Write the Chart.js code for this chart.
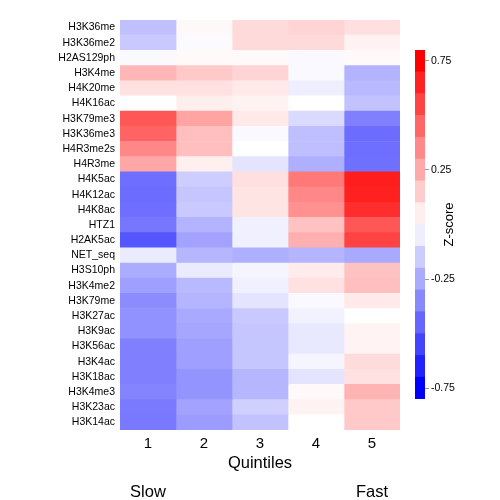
<!DOCTYPE html>
<html>
<head>
<meta charset="utf-8">
<script src="https://cdn.jsdelivr.net/npm/chart.js@4.4.0/dist/chart.umd.min.js"></script>
<style>
  html, body { margin: 0; padding: 0; background: #ffffff; }
  #wrap { position: relative; width: 500px; height: 500px; }
  #main { position: absolute; left: 0; top: 0; }
  #key { position: absolute; left: 400px; top: 40px; }
</style>
</head>
<body>
<div id="wrap">
  <canvas id="main" width="500" height="500"></canvas>
  <canvas id="key" width="100" height="370"></canvas>
</div>
<script>
// ---------- data ----------
const marks = ["H3K36me","H3K36me2","H2AS129ph","H3K4me","H4K20me","H4K16ac","H3K79me3","H3K36me3","H4R3me2s","H4R3me",
  "H4K5ac","H4K12ac","H4K8ac","HTZ1","H2AK5ac","NET_seq","H3S10ph","H3K4me2","H3K79me","H3K27ac",
  "H3K9ac","H3K56ac","H3K4ac","H3K18ac","H3K4me3","H3K23ac","H3K14ac"];
const quintiles = [1, 2, 3, 4, 5];
const quintileLabels = ["1", "2", "3", "4", "5"];
const speedPos = [1, 5];
const speedLabels = ["Slow", "Fast"];
const xTitle = "Quintiles";
const zTitleText = "Z-score";
const zTicks = [-0.75, -0.25, 0.25, 0.75];
const zBreaks = [-0.8,-0.7,-0.6,-0.5,-0.4,-0.3,-0.2,-0.1,0,0.1,0.2,0.3,0.4,0.5,0.6,0.7,0.8];

const q1 = [-0.198,-0.17,-0.02,0.23,0.094,0,0.53,0.49,0.376,0.28,
  -0.455,-0.46,-0.455,-0.43,-0.53,-0.063,-0.26,-0.30,-0.36,-0.345,
  -0.345,-0.40,-0.40,-0.40,-0.386,-0.417,-0.42];
const q2 = [0.022,-0.016,0.02,0.17,0.094,0.053,0.29,0.20,0.20,0.047,
  -0.157,-0.18,-0.17,-0.24,-0.29,-0.23,-0.063,-0.22,-0.235,-0.27,
  -0.28,-0.30,-0.30,-0.336,-0.336,-0.29,-0.31];
const q3 = [0.116,0.116,0.02,0.135,0.07,0.04,0.07,-0.02,0,-0.085,
  0.10,0.085,0.085,-0.047,-0.047,-0.25,-0.03,-0.047,-0.085,-0.17,
  -0.18,-0.18,-0.18,-0.23,-0.23,-0.147,-0.19];
const q4 = [0.135,0.116,-0.02,-0.02,-0.053,0,-0.116,-0.2,-0.2,-0.25,
  0.42,0.376,0.345,0.19,0.25,-0.235,0.063,0.094,-0.02,-0.04,
  -0.072,-0.072,-0.03,-0.085,0.02,0.04,0];
const q5 = [0.10,0.04,0.02,-0.24,-0.22,-0.19,-0.40,-0.46,-0.455,-0.45,
  0.71,0.70,0.66,0.53,0.59,-0.27,0.19,0.20,0.07,0,
  0.038,0.038,0.11,0.094,0.235,0.17,0.17];
const seriesValues = [q1, q2, q3, q4, q5];

// ---------- colours ----------
const zLimit = 0.8;
function zColor(v) {
  let t = Math.max(-1, Math.min(1, v / zLimit));
  if (t >= 0) { const c = Math.round(255 * (1 - t)); return `rgb(255,${c},${c})`; }
  const c = Math.round(255 * (1 + t)); return `rgb(${c},${c},255)`;
}
function paletteColor(k, n) { // colorRampPalette(blue, white, red)(n)
  const t = k / (n - 1);
  if (t >= 0.5) { const c = Math.round(255 * (1 - (t - 0.5) * 2)); return `rgb(255,${c},${c})`; }
  const c = Math.round(255 * (t * 2)); return `rgb(${c},${c},255)`;
}

Chart.defaults.font.family = '"Liberation Sans", Arial, Helvetica, sans-serif';
Chart.defaults.color = '#000';

// ---------- heatmap ----------
new Chart(document.getElementById('main'), {
  type: 'bar',
  data: {
    labels: marks,
    datasets: quintiles.map((q, i) => ({
      label: quintileLabels[i],
      data: marks.map(() => [q - 0.5, q + 0.5]),
      backgroundColor: seriesValues[i].map(zColor),
      borderWidth: 0,
      grouped: false,
      barPercentage: 1,
      categoryPercentage: 1
    }))
  },
  options: {
    indexAxis: 'y',
    responsive: false,
    animation: false,
    layout: { padding: { top: 20, right: 100, left: 0, bottom: 0 } },
    plugins: { legend: { display: false }, tooltip: { enabled: false } },
    scales: {
      x: {
        type: 'linear', position: 'bottom', weight: 0,
        min: 0.5, max: 5.5,
        grid: { display: false, drawTicks: false },
        border: { display: false },
        afterBuildTicks: s => { s.ticks = quintiles.map(v => ({ value: v })); },
        ticks: {
          callback: v => quintileLabels[quintiles.indexOf(v)],
          font: { size: 15 }, color: '#000', padding: 5, maxRotation: 0, autoSkip: false
        },
        title: { display: true, text: xTitle, font: { size: 16.5 }, color: '#000', padding: { top: 0, bottom: 2 } },
        afterFit: s => { s.height = 45; }
      },
      x2: {
        type: 'linear', position: 'bottom', weight: 1,
        min: 0.5, max: 5.5,
        grid: { display: false, drawTicks: false },
        border: { display: false },
        afterBuildTicks: s => { s.ticks = speedPos.map(v => ({ value: v })); },
        ticks: {
          callback: v => speedLabels[speedPos.indexOf(v)],
          font: { size: 16.5 }, color: '#000', padding: 8, maxRotation: 0, autoSkip: false
        },
        afterFit: s => { s.height = 25; }
      },
      y: {
        type: 'category',
        grid: { display: false, drawTicks: false },
        border: { display: false },
        ticks: { font: { size: 10.5 }, color: '#000', padding: 5, autoSkip: false },
        afterFit: s => { s.width = 120; }
      }
    }
  }
});

// ---------- colour key ----------
const zTitlePlugin = {
  id: 'zTitle',
  afterDraw(chart) {
    const ctx = chart.ctx, a = chart.chartArea;
    ctx.save();
    ctx.translate(a.right + 24, (a.top + a.bottom) / 2);
    ctx.rotate(-Math.PI / 2);
    ctx.font = '13px "Liberation Sans", Arial, sans-serif';
    ctx.fillStyle = '#000';
    ctx.textAlign = 'center';
    ctx.textBaseline = 'middle';
    ctx.fillText(zTitleText, 0, 0);
    ctx.restore();
  }
};
const nBins = zBreaks.length - 1;
new Chart(document.getElementById('key'), {
  type: 'bar',
  data: {
    labels: ['z'],
    datasets: zBreaks.slice(0, nBins).map((lo, k) => ({
      data: [[lo, zBreaks[k + 1]]],
      backgroundColor: paletteColor(k, nBins),
      borderWidth: 0,
      grouped: false,
      barPercentage: 1,
      categoryPercentage: 1
    }))
  },
  options: {
    responsive: false,
    animation: false,
    layout: { padding: { top: 10, bottom: 11, left: 15, right: 0 } },
    plugins: { legend: { display: false }, tooltip: { enabled: false } },
    scales: {
      x: { display: false },
      y: {
        type: 'linear', position: 'right',
        min: -0.8, max: 0.8,
        afterBuildTicks: s => { s.ticks = zTicks.map(v => ({ value: v })); },
        grid: { display: true, drawOnChartArea: false, drawTicks: true, tickLength: 4, color: '#999' },
        border: { display: false },
        ticks: { callback: v => String(v), font: { size: 10.5 }, color: '#000', padding: 2 },
        afterFit: s => { s.width = 75; }
      }
    }
  },
  plugins: [zTitlePlugin]
});
</script>
</body>
</html>
